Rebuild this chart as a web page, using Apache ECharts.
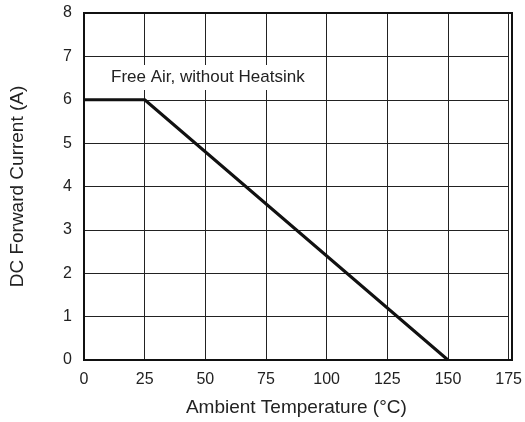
<!DOCTYPE html>
<html><head><meta charset="utf-8">
<script src="https://cdn.jsdelivr.net/npm/echarts@6/dist/echarts.min.js"></script>
<style>html,body{margin:0;padding:0;background:#fff}#c{width:525px;height:422px}</style>
</head><body><div id="c"></div>
<script>
var xTicks = [0, 25, 50, 75, 100, 125, 150, 175];
var yTicks = [0, 1, 2, 3, 4, 5, 6, 7, 8];
var temperature = [0, 25, 150];
var current = [6, 6, 0];
var annotation = 'Free Air, without Heatsink';
var xName = 'Ambient Temperature (°C)';
var yName = 'DC Forward Current (A)';

var font = 'Liberation Sans';
var chart = echarts.init(document.getElementById('c'));
chart.setOption({
  animation: false,
  grid: {left: 84, right: 13, top: 13, bottom: 62},
  xAxis: {
    type: 'value', min: xTicks[0], max: xTicks[xTicks.length-1], interval: 25,
    name: xName, nameLocation: 'middle', nameGap: 38,
    nameTextStyle: {fontFamily: font, fontSize: 19, color: '#222'},
    axisLine: {show: true, lineStyle: {color: '#111', width: 2}},
    axisTick: {show: false},
    axisLabel: {fontFamily: font, fontSize: 16, color: '#222', margin: 12},
    splitLine: {show: true, lineStyle: {color: '#222', width: 1}}
  },
  yAxis: {
    type: 'value', min: yTicks[0], max: yTicks[yTicks.length-1], interval: 1,
    name: yName, nameLocation: 'middle', nameGap: 57,
    nameTextStyle: {fontFamily: font, fontSize: 19, color: '#222'},
    axisLine: {show: true, lineStyle: {color: '#111', width: 2}},
    axisTick: {show: false},
    axisLabel: {fontFamily: font, fontSize: 16, color: '#222', margin: 12},
    splitLine: {show: true, lineStyle: {color: '#222', width: 1}}
  },
  graphic: [
    {type: 'rect', shape: {x: 84, y: 13, width: 428, height: 347}, style: {fill: 'none', stroke: '#111', lineWidth: 2}, z: 10},
    {type: 'text', left: 107, top: 65, z: 20,
     style: {text: annotation, font: '17px "Liberation Sans"', fill: '#222', backgroundColor: '#fff', padding: [4, 4, 4, 4]}}
  ],
  series: [{
    type: 'line', data: temperature.map(function(t, i){ return [t, current[i]]; }),
    symbol: 'none', lineStyle: {color: '#111', width: 3}, z: 5
  }]
});
</script></body></html>
